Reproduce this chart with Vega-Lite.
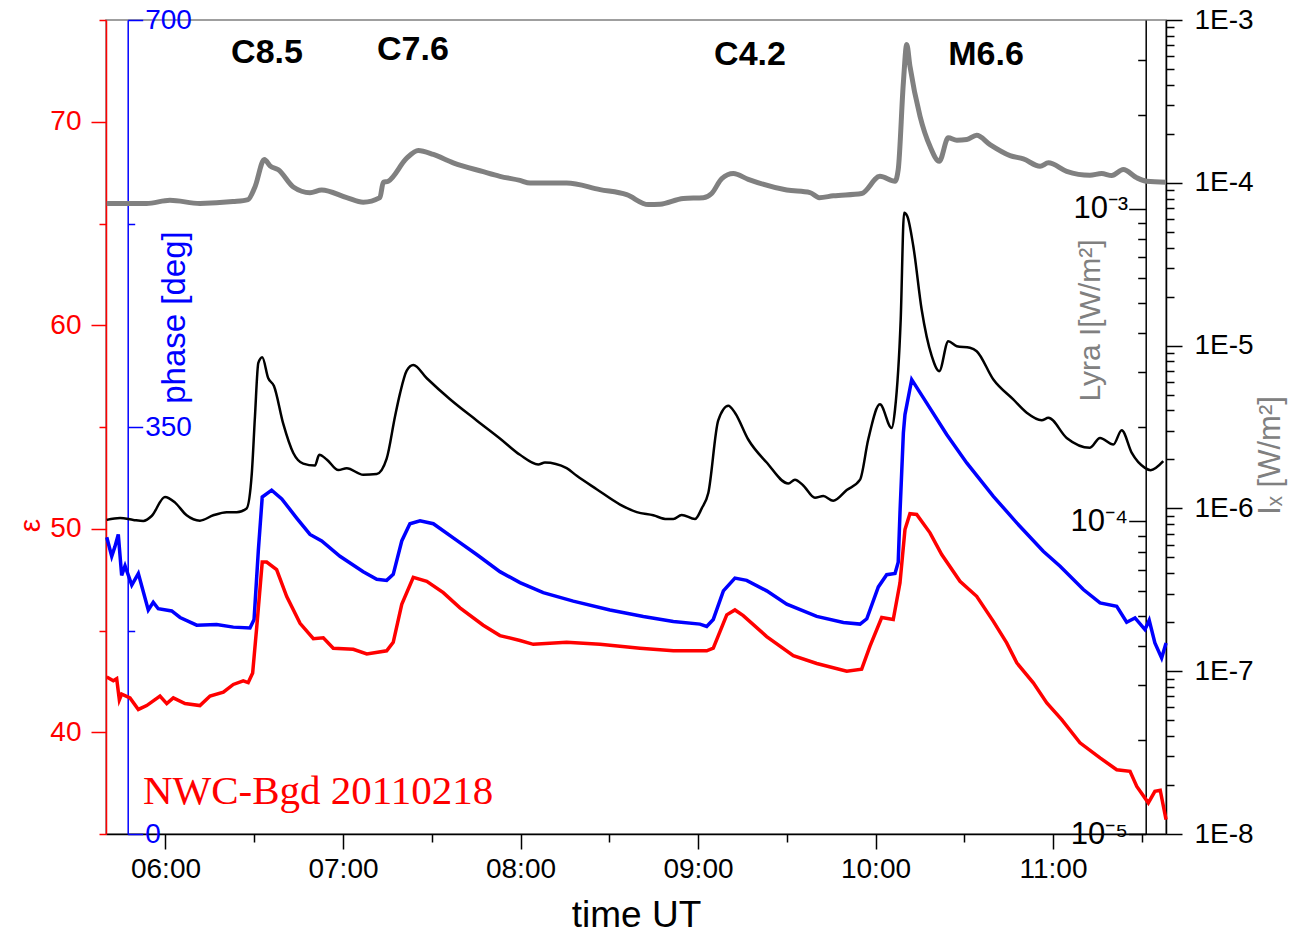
{
  "$schema": "https://vega.github.io/schema/vega-lite/v6.json",
  "width": 1060,
  "height": 814,
  "autosize": {"type": "none"},
  "padding": {"left": 106, "top": 20, "right": 141, "bottom": 99},
  "background": "white",
  "config": {
    "view": {"stroke": "#808080", "strokeWidth": 1.5},
    "font": "Liberation Sans",
    "axis": {"labelFont": "Liberation Sans", "titleFont": "Liberation Sans", "labelFontWeight": "normal", "titleFontWeight": "normal", "grid": false, "labelFlush": false, "labelOverlap": false, "domainWidth": 1.5, "tickWidth": 1.5}
  },
  "datasets": {
    "lyra": [
      {"t":5.669,"v":1.041e-3},{"t":5.894,"v":1.041e-3},{"t":6.025,"v":1.065e-3},{"t":6.194,"v":1.041e-3},{"t":6.380,"v":1.055e-3},{"t":6.465,"v":1.071e-3},{"t":6.504,"v":1.175e-3},{"t":6.557,"v":1.439e-3},{"t":6.589,"v":1.372e-3},{"t":6.636,"v":1.334e-3},{"t":6.720,"v":1.175e-3},{"t":6.814,"v":1.127e-3},{"t":6.880,"v":1.149e-3},{"t":7.021,"v":1.086e-3},{"t":7.114,"v":1.050e-3},{"t":7.208,"v":1.086e-3},{"t":7.227,"v":1.216e-3},{"t":7.255,"v":1.226e-3},{"t":7.359,"v":1.452e-3},{"t":7.424,"v":1.537e-3},{"t":7.509,"v":1.493e-3},{"t":7.621,"v":1.404e-3},{"t":7.790,"v":1.315e-3},{"t":7.884,"v":1.271e-3},{"t":7.997,"v":1.233e-3},{"t":8.054,"v":1.209e-3},{"t":8.260,"v":1.209e-3},{"t":8.448,"v":1.152e-3},{"t":8.598,"v":1.110e-3},{"t":8.720,"v":1.032e-3},{"t":8.786,"v":1.035e-3},{"t":8.917,"v":1.080e-3},{"t":9.030,"v":1.086e-3},{"t":9.077,"v":1.120e-3},{"t":9.134,"v":1.250e-3},{"t":9.199,"v":1.297e-3},{"t":9.283,"v":1.243e-3},{"t":9.500,"v":1.149e-3},{"t":9.631,"v":1.127e-3},{"t":9.683,"v":1.086e-3},{"t":9.762,"v":1.101e-3},{"t":9.922,"v":1.120e-3},{"t":10.025,"v":1.271e-3},{"t":10.110,"v":1.226e-3},{"t":10.128,"v":1.336e-3},{"t":10.157,"v":2.531e-3},{"t":10.176,"v":3.356e-3},{"t":10.194,"v":2.860e-3},{"t":10.251,"v":1.978e-3},{"t":10.307,"v":1.586e-3},{"t":10.359,"v":1.420e-3},{"t":10.410,"v":1.688e-3},{"t":10.458,"v":1.658e-3},{"t":10.514,"v":1.666e-3},{"t":10.570,"v":1.720e-3},{"t":10.645,"v":1.606e-3},{"t":10.758,"v":1.481e-3},{"t":10.833,"v":1.445e-3},{"t":10.927,"v":1.369e-3},{"t":10.974,"v":1.404e-3},{"t":11.077,"v":1.319e-3},{"t":11.208,"v":1.281e-3},{"t":11.274,"v":1.297e-3},{"t":11.331,"v":1.278e-3},{"t":11.396,"v":1.336e-3},{"t":11.472,"v":1.257e-3},{"t":11.528,"v":1.226e-3},{"t":11.637,"v":1.217e-3}
    ],
    "ix": [
      {"t":5.669,"v":8.50e-7},{"t":5.744,"v":8.74e-7},{"t":5.819,"v":8.50e-7},{"t":5.875,"v":8.37e-7},{"t":5.922,"v":8.98e-7},{"t":5.997,"v":1.176e-6},{"t":6.054,"v":1.085e-6},{"t":6.119,"v":9.07e-7},{"t":6.194,"v":8.41e-7},{"t":6.269,"v":9.07e-7},{"t":6.345,"v":9.48e-7},{"t":6.401,"v":9.48e-7},{"t":6.457,"v":1.0e-6},{"t":6.486,"v":1.628e-6},{"t":6.504,"v":3.67e-6},{"t":6.523,"v":7.83e-6},{"t":6.545,"v":8.49e-6},{"t":6.579,"v":6.30e-6},{"t":6.611,"v":5.65e-6},{"t":6.664,"v":3.29e-6},{"t":6.720,"v":2.19e-6},{"t":6.776,"v":1.884e-6},{"t":6.842,"v":1.834e-6},{"t":6.866,"v":2.134e-6},{"t":6.908,"v":2.0e-6},{"t":6.974,"v":1.719e-6},{"t":7.021,"v":1.765e-6},{"t":7.114,"v":1.610e-6},{"t":7.190,"v":1.628e-6},{"t":7.246,"v":2.022e-6},{"t":7.293,"v":3.67e-6},{"t":7.321,"v":5.07e-6},{"t":7.359,"v":7.02e-6},{"t":7.396,"v":7.61e-6},{"t":7.472,"v":6.30e-6},{"t":7.603,"v":4.68e-6},{"t":7.753,"v":3.47e-6},{"t":7.884,"v":2.69e-6},{"t":7.997,"v":2.134e-6},{"t":8.100,"v":1.863e-6},{"t":8.138,"v":1.913e-6},{"t":8.260,"v":1.765e-6},{"t":8.317,"v":1.585e-6},{"t":8.429,"v":1.312e-6},{"t":8.561,"v":1.056e-6},{"t":8.655,"v":9.48e-7},{"t":8.748,"v":9.07e-7},{"t":8.824,"v":8.60e-7},{"t":8.861,"v":8.60e-7},{"t":8.908,"v":9.12e-7},{"t":8.983,"v":8.60e-7},{"t":9.021,"v":1.0e-6},{"t":9.058,"v":1.242e-6},{"t":9.114,"v":3.47e-6},{"t":9.171,"v":4.27e-6},{"t":9.208,"v":3.87e-6},{"t":9.283,"v":2.65e-6},{"t":9.387,"v":1.913e-6},{"t":9.509,"v":1.422e-6},{"t":9.546,"v":1.501e-6},{"t":9.593,"v":1.384e-6},{"t":9.659,"v":1.163e-6},{"t":9.706,"v":1.190e-6},{"t":9.762,"v":1.115e-6},{"t":9.838,"v":1.297e-6},{"t":9.913,"v":1.501e-6},{"t":9.959,"v":2.65e-6},{"t":10.025,"v":4.36e-6},{"t":10.091,"v":3.12e-6},{"t":10.110,"v":4.05e-6},{"t":10.142,"v":1.446e-5},{"t":10.161,"v":6.54e-5},{"t":10.179,"v":6.23e-5},{"t":10.213,"v":4.08e-5},{"t":10.260,"v":1.666e-5},{"t":10.317,"v":8.61e-6},{"t":10.359,"v":6.96e-6},{"t":10.410,"v":1.064e-5},{"t":10.458,"v":9.92e-6},{"t":10.532,"v":9.69e-6},{"t":10.570,"v":9.24e-6},{"t":10.664,"v":6.19e-6},{"t":10.776,"v":4.67e-6},{"t":10.852,"v":3.87e-6},{"t":10.936,"v":3.48e-6},{"t":10.974,"v":3.60e-6},{"t":11.077,"v":2.71e-6},{"t":11.208,"v":2.36e-6},{"t":11.265,"v":2.71e-6},{"t":11.340,"v":2.47e-6},{"t":11.387,"v":3.02e-6},{"t":11.443,"v":2.20e-6},{"t":11.518,"v":1.775e-6},{"t":11.550,"v":1.717e-6},{"t":11.621,"v":1.950e-6}
    ],
    "phase": [
      {"t":5.669,"v":255.2},{"t":5.697,"v":238.8},{"t":5.715,"v":247.1},{"t":5.734,"v":257.6},{"t":5.753,"v":222.4},{"t":5.772,"v":230.6},{"t":5.810,"v":214.1},{"t":5.847,"v":224.0},{"t":5.903,"v":192.7},{"t":5.931,"v":199.3},{"t":5.959,"v":193.7},{"t":6.035,"v":191.8},{"t":6.082,"v":186.2},{"t":6.176,"v":179.6},{"t":6.288,"v":180.2},{"t":6.382,"v":177.9},{"t":6.476,"v":177.2},{"t":6.499,"v":184.5},{"t":6.523,"v":243.7},{"t":6.545,"v":289.8},{"t":6.598,"v":295.7},{"t":6.655,"v":288.2},{"t":6.739,"v":271.7},{"t":6.814,"v":257.6},{"t":6.880,"v":252.0},{"t":6.983,"v":238.8},{"t":7.114,"v":225.6},{"t":7.190,"v":219.0},{"t":7.246,"v":218.1},{"t":7.283,"v":223.3},{"t":7.331,"v":252.0},{"t":7.377,"v":266.8},{"t":7.434,"v":269.4},{"t":7.509,"v":266.8},{"t":7.631,"v":253.6},{"t":7.753,"v":240.4},{"t":7.884,"v":225.6},{"t":7.997,"v":216.2},{"t":8.128,"v":207.5},{"t":8.297,"v":200.3},{"t":8.504,"v":192.7},{"t":8.692,"v":187.1},{"t":8.861,"v":182.8},{"t":9.011,"v":180.5},{"t":9.049,"v":178.5},{"t":9.086,"v":184.5},{"t":9.143,"v":209.1},{"t":9.208,"v":220.1},{"t":9.274,"v":218.1},{"t":9.387,"v":209.1},{"t":9.500,"v":197.6},{"t":9.669,"v":187.1},{"t":9.819,"v":181.9},{"t":9.913,"v":180.5},{"t":9.951,"v":185.1},{"t":10.016,"v":212.5},{"t":10.063,"v":223.0},{"t":10.110,"v":224.0},{"t":10.128,"v":233.8},{"t":10.138,"v":276.4},{"t":10.157,"v":344.9},{"t":10.166,"v":360.7},{"t":10.204,"v":390.8},{"t":10.269,"v":375.3},{"t":10.401,"v":343.5},{"t":10.514,"v":319.1},{"t":10.664,"v":290.4},{"t":10.796,"v":267.5},{"t":10.945,"v":243.1},{"t":11.040,"v":230.2},{"t":11.171,"v":210.2},{"t":11.265,"v":198.7},{"t":11.359,"v":195.8},{"t":11.415,"v":182.1},{"t":11.462,"v":185.8},{"t":11.518,"v":175.8},{"t":11.542,"v":183.8},{"t":11.574,"v":164.3},{"t":11.612,"v":151.4},{"t":11.637,"v":164.3}
    ],
    "eps": [
      {"t":5.669,"v":42.72},{"t":5.706,"v":42.53},{"t":5.725,"v":42.63},{"t":5.740,"v":41.59},{"t":5.753,"v":41.87},{"t":5.800,"v":41.69},{"t":5.847,"v":41.12},{"t":5.894,"v":41.31},{"t":5.969,"v":41.78},{"t":6.007,"v":41.41},{"t":6.044,"v":41.69},{"t":6.110,"v":41.41},{"t":6.194,"v":41.31},{"t":6.251,"v":41.78},{"t":6.326,"v":41.97},{"t":6.382,"v":42.35},{"t":6.438,"v":42.53},{"t":6.466,"v":42.44},{"t":6.491,"v":42.91},{"t":6.514,"v":45.17},{"t":6.545,"v":48.36},{"t":6.570,"v":48.36},{"t":6.626,"v":47.99},{"t":6.683,"v":46.67},{"t":6.758,"v":45.35},{"t":6.833,"v":44.60},{"t":6.889,"v":44.64},{"t":6.945,"v":44.13},{"t":7.058,"v":44.08},{"t":7.134,"v":43.85},{"t":7.246,"v":44.00},{"t":7.283,"v":44.42},{"t":7.331,"v":46.29},{"t":7.396,"v":47.61},{"t":7.472,"v":47.42},{"t":7.565,"v":46.86},{"t":7.659,"v":46.11},{"t":7.790,"v":45.26},{"t":7.884,"v":44.75},{"t":7.997,"v":44.51},{"t":8.072,"v":44.32},{"t":8.260,"v":44.42},{"t":8.448,"v":44.32},{"t":8.673,"v":44.13},{"t":8.861,"v":44.00},{"t":9.049,"v":44.00},{"t":9.086,"v":44.13},{"t":9.162,"v":45.77},{"t":9.208,"v":46.01},{"t":9.255,"v":45.73},{"t":9.387,"v":44.70},{"t":9.537,"v":43.76},{"t":9.669,"v":43.38},{"t":9.838,"v":43.00},{"t":9.922,"v":43.10},{"t":9.969,"v":44.23},{"t":10.035,"v":45.64},{"t":10.100,"v":45.54},{"t":10.138,"v":47.34},{"t":10.166,"v":49.96},{"t":10.194,"v":50.74},{"t":10.232,"v":50.70},{"t":10.307,"v":49.80},{"t":10.373,"v":48.73},{"t":10.476,"v":47.42},{"t":10.570,"v":46.68},{"t":10.664,"v":45.45},{"t":10.739,"v":44.39},{"t":10.796,"v":43.41},{"t":10.889,"v":42.43},{"t":10.965,"v":41.44},{"t":11.049,"v":40.62},{"t":11.152,"v":39.48},{"t":11.265,"v":38.74},{"t":11.359,"v":38.16},{"t":11.434,"v":38.08},{"t":11.472,"v":37.34},{"t":11.537,"v":36.53},{"t":11.574,"v":37.10},{"t":11.604,"v":37.15},{"t":11.637,"v":35.71}
    ],
    "flares": [
      {"t":6.572,"e":73.40,"label":"C8.5"},
      {"t":7.394,"e":73.55,"label":"C7.6"},
      {"t":9.293,"e":73.28,"label":"C4.2"},
      {"t":10.623,"e":73.28,"label":"M6.6"}
    ],
    "station": [
      {"t":5.873,"e":37.08,"label":"NWC-Bgd 20110218"}
    ]
  },
  "encoding": {
    "x": {
      "field": "t",
      "type": "quantitative",
      "scale": {"domain": [5.6648, 11.6366], "nice": false, "zero": false},
      "axis": {
        "orient": "bottom",
        "title": "time UT",
        "titleFontSize": 37,
        "titleColor": "black",
        "titleY": 92,
        "titleBaseline": "alphabetic",
        "values": [6, 6.5, 7, 7.5, 8, 8.5, 9, 9.5, 10, 10.5, 11, 11.5],
        "labelExpr": "datum.value % 1 == 0 ? (datum.value < 10 ? '0' : '') + datum.value + ':00' : ''",
        "labelFontSize": 28,
        "labelColor": "black",
        "labelPadding": 6,
        "domainColor": "black",
        "tickColor": "black",
        "tickSize": {"condition": {"test": "datum.value % 1 == 0", "value": 15}, "value": 8}
      }
    }
  },
  "layer": [
    {
      "data": {"name": "lyra"},
      "mark": {"type": "line", "color": "#808080", "strokeWidth": 5, "interpolate": "monotone"},
      "encoding": {
        "y": {
          "field": "v",
          "type": "quantitative",
          "scale": {"type": "log", "domain": [1e-5, 4.02e-3], "nice": false, "zero": false},
          "axis": {
            "orient": "left",
            "offset": -1039.7,
            "title": "Lyra I[W/m²]",
            "titleColor": "#808080",
            "titleFontSize": 30,
            "titleAngle": 270,
            "titleX": -55,
            "titleY": 300,
            "titleAlign": "center",
            "titleBaseline": "middle",
            "values": [1e-5, 2e-5, 3e-5, 4e-5, 5e-5, 6e-5, 7e-5, 8e-5, 9e-5, 1e-4, 2e-4, 3e-4, 4e-4, 5e-4, 6e-4, 7e-4, 8e-4, 9e-4, 1e-3, 2e-3, 3e-3],
            "labelExpr": "abs(log(datum.value)/LN10 - round(log(datum.value)/LN10)) < 0.01 ? (round(log(datum.value)/LN10) == -3 ? '10⁻³' : round(log(datum.value)/LN10) == -4 ? '10⁻⁴' : '10⁻⁵') : ''",
            "labelFontSize": 31,
            "labelColor": "black",
            "labelPadding": 1,
            "domainColor": "black",
            "tickColor": "black",
            "tickSize": {"condition": {"test": "abs(log(datum.value)/LN10 - round(log(datum.value)/LN10)) < 0.01", "value": 17}, "value": 8}
          }
        }
      }
    },
    {
      "data": {"name": "ix"},
      "mark": {"type": "line", "color": "black", "strokeWidth": 2.5, "interpolate": "monotone"},
      "encoding": {
        "y": {
          "field": "v",
          "type": "quantitative",
          "scale": {"type": "log", "domain": [1e-8, 1e-3], "nice": false, "zero": false},
          "axis": {
            "orient": "right",
            "title": "Iₓ [W/m²]",
            "titleColor": "#808080",
            "titleFontSize": 31,
            "titleAngle": 270,
            "titleX": 104,
            "titleY": 435,
            "titleAlign": "center",
            "titleBaseline": "middle",
            "values": [1e-8, 2e-8, 3e-8, 4e-8, 5e-8, 6e-8, 7e-8, 8e-8, 9e-8, 1e-7, 2e-7, 3e-7, 4e-7, 5e-7, 6e-7, 7e-7, 8e-7, 9e-7, 1e-6, 2e-6, 3e-6, 4e-6, 5e-6, 6e-6, 7e-6, 8e-6, 9e-6, 1e-5, 2e-5, 3e-5, 4e-5, 5e-5, 6e-5, 7e-5, 8e-5, 9e-5, 1e-4, 2e-4, 3e-4, 4e-4, 5e-4, 6e-4, 7e-4, 8e-4, 9e-4, 1e-3],
            "labelExpr": "abs(log(datum.value)/LN10 - round(log(datum.value)/LN10)) < 0.01 ? '1E' + round(log(datum.value)/LN10) : ''",
            "labelFontSize": 28,
            "labelColor": "black",
            "labelPadding": 12,
            "domainColor": "black",
            "tickColor": "black",
            "tickSize": {"condition": {"test": "abs(log(datum.value)/LN10 - round(log(datum.value)/LN10)) < 0.01", "value": 16}, "value": 8}
          }
        }
      }
    },
    {
      "data": {"name": "phase"},
      "mark": {"type": "line", "color": "#0000ff", "strokeWidth": 3.5},
      "encoding": {
        "y": {
          "field": "v",
          "type": "quantitative",
          "scale": {"domain": [0, 700], "nice": false, "zero": false},
          "axis": {
            "orient": "right",
            "offset": -1038.3,
            "title": "phase [deg]",
            "titleColor": "#0000ff",
            "titleFontSize": 33,
            "titleAngle": 270,
            "titleX": 47,
            "titleY": 297,
            "titleAlign": "center",
            "titleBaseline": "middle",
            "values": [0, 175, 350, 525, 700],
            "labelExpr": "datum.value % 350 == 0 ? datum.value : ''",
            "labelFontSize": 28,
            "labelColor": "#0000ff",
            "labelPadding": 2,
            "domainColor": "#0000ff",
            "tickColor": "#0000ff",
            "tickSize": {"condition": {"test": "datum.value % 350 == 0", "value": 15}, "value": 7}
          }
        }
      }
    },
    {
      "data": {"name": "eps"},
      "mark": {"type": "line", "color": "#ff0000", "strokeWidth": 3.5},
      "encoding": {
        "y": {
          "field": "v",
          "type": "quantitative",
          "scale": {"domain": [35, 75], "nice": false, "zero": false},
          "axis": {
            "orient": "left",
            "title": "ε",
            "titleColor": "#ff0000",
            "titleFontSize": 30,
            "titleAngle": 270,
            "titleX": -76,
            "titleY": 505,
            "titleAlign": "center",
            "titleBaseline": "middle",
            "values": [35, 40, 45, 50, 55, 60, 65, 70, 75],
            "labelExpr": "datum.value % 10 == 0 ? datum.value : ''",
            "labelFontSize": 28,
            "labelColor": "#ff0000",
            "labelPadding": 10,
            "domainColor": "#ff0000",
            "tickColor": "#ff0000",
            "tickSize": {"condition": {"test": "datum.value % 10 == 0", "value": 15}, "value": 7}
          }
        }
      }
    },
    {
      "data": {"name": "flares"},
      "mark": {"type": "text", "fontSize": 34, "fontWeight": "bold", "font": "Liberation Sans", "color": "black", "align": "center", "baseline": "middle"},
      "encoding": {
        "y": {"field": "e", "type": "quantitative", "scale": {"domain": [35, 75], "nice": false, "zero": false}, "axis": null},
        "text": {"field": "label"}
      }
    },
    {
      "data": {"name": "station"},
      "mark": {"type": "text", "fontSize": 41, "font": "Liberation Serif", "color": "#ff0000", "align": "left", "baseline": "middle"},
      "encoding": {
        "y": {"field": "e", "type": "quantitative", "scale": {"domain": [35, 75], "nice": false, "zero": false}, "axis": null},
        "text": {"field": "label"}
      }
    }
  ],
  "resolve": {"scale": {"y": "independent"}, "axis": {"y": "independent"}}
}
